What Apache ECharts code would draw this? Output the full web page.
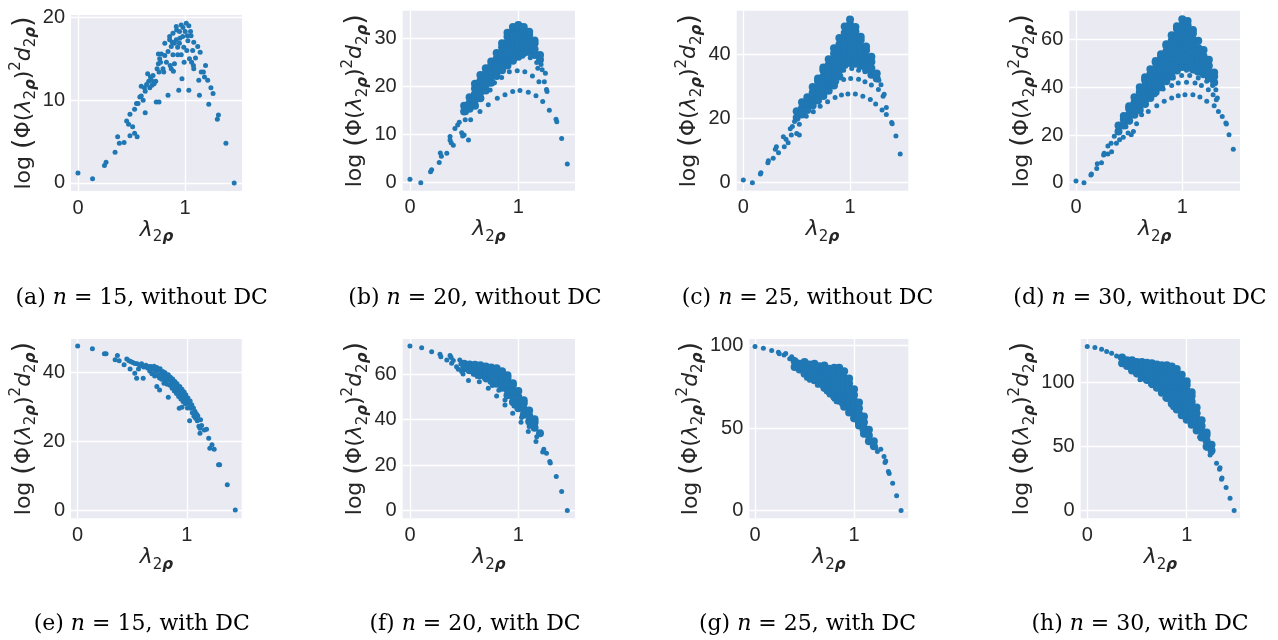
<!DOCTYPE html>
<html>
<head>
<meta charset="utf-8">
<script src="https://cdn.jsdelivr.net/npm/echarts@6/dist/echarts.min.js"></script>
<style>
html,body{margin:0;padding:0;background:#fff;}
#chart{width:1278px;height:640px;}
</style>
</head>
<body>
<div id="chart"></div>
<script>
// ---- data ----
// x = lambda_2rho, y = log(Phi(lambda)^2 d)
var xTicks = [0, 1];
var yTicks = [[0,10,20],[0,10,20,30],[0,20,40],[0,20,40,60],[0,20,40],[0,20,40,60],[0,50,100],[0,50,100]];
var capLetters = ['a','b','c','d','e','f','g','h'];
var capN = [15,20,25,30,15,20,25,30];
var capDC = ['without DC','without DC','without DC','without DC','with DC','with DC','with DC','with DC'];

// (a) n=15 without DC
var ptsA = [[0,1.2],[0.136,0.5],[0.247,2.1],[0.262,2.5],[0.346,3.7],[0.37,5.6],[0.386,4.8],[0.43,4.9],
[0.454,7.5],[0.472,7.1],[0.485,8.3],[0.485,5.7],[0.51,6.8],[0.528,6.0],[0.552,5.6],[0.528,8.9],
[0.546,9.6],[0.56,9.6],[0.577,10.4],[0.59,10.5],[0.59,11.7],[0.608,10.0],[0.62,11.5],[0.627,8.5],[0.627,11.1],[0.64,11.9],
[0.65,13.2],[0.66,12.3],[0.67,11.5],[0.676,12.8],[0.686,12.4],[0.69,11.8],[0.70,13.0],[0.71,12.0],[0.725,12.3],[0.73,9.8],
[0.756,9.8],[0.738,13.8],[0.75,14.4],[0.75,15.6],[0.756,13.4],[0.762,15.0],[0.77,14.6],[0.778,15.6],[0.793,13.8],[0.80,13.4],
[0.81,15.4],[0.81,16.9],[0.825,14.6],[0.84,10.6],[0.84,15.9],[0.855,17.3],[0.855,17.7],[0.86,14.2],[0.87,13.8],
[0.87,16.5],[0.88,17.0],[0.886,15.5],[0.886,18.1],[0.89,13.5],[0.90,14.4],[0.90,16.9],[0.917,18.9],[0.917,17.3],[0.92,18.5],[0.93,16.4],
[0.93,15.5],[0.94,11.2],[0.947,18.3],[0.947,16.9],[0.95,17.5],[0.963,19.1],[0.963,15.5],[0.97,12.6],[0.977,17.7],[0.98,18.8],
[0.987,16.4],[0.99,14.6],[1.00,18.3],[1.01,19.3],[1.015,16.0],[1.02,17.8],[1.025,17.2],[1.034,11.2],[1.034,19.0],
[1.04,15.0],[1.05,18.3],[1.055,17.8],[1.06,14.6],[1.07,16.0],[1.077,14.2],[1.08,17.0],[1.08,13.8],[1.096,15.1],[1.117,16.5],[1.127,12.4],
[1.133,10.6],[1.14,15.8],[1.15,13.4],[1.17,13.4],[1.19,14.2],[1.18,12.8],[1.21,12.4],[1.22,9.5],
[1.24,11.5],[1.26,10.8],[1.30,7.7],[1.31,8.2],[1.38,4.8],[1.457,0]];

// (b) n=20 without DC
var ptsB = [[0,0.7],[0.10,0],[0.19,2.3],[0.20,2.7],[0.27,4.2],[0.28,6.2],[0.29,5.5],[0.34,6.1],[0.37,8.9],[0.37,9.6],
[0.38,8.3],[0.40,7.8],[0.415,11.3],[0.44,12.0],[0.455,12.6],[0.477,10.4],[0.486,9.7],[0.50,9.9],[0.51,13.1],[0.52,14.6],
[0.54,8.9],[0.548,17.2],[0.56,13.1],[0.57,16.0],[0.59,18.6],[0.615,17.9],[0.646,14.8],[0.64,19.5],[0.66,20.1],[0.723,16.2],
[0.74,19.3],[0.806,17.6],[0.877,18.3],[0.948,19.0],[1.015,19.2],[1.092,18.8],[1.163,18.1],[1.225,16.9],[1.286,15.1],
[1.348,13.2],[1.355,12.7],[1.40,9.2],[1.452,3.9],
[0.78,20.8],[0.846,21.9],[0.917,23.1],[0.99,23.3],[1.06,23.1],[1.13,22.2],[1.19,21.0],[1.26,19.4],[1.265,19.0],
[0.90,24.5],[0.97,25.8],[1.04,26.3],[1.11,26.0],[1.17,25.0],[1.22,23.5],[1.25,22.8],[1.24,21.0],[1.18,23.8],[1.21,24.6]];
var coreB = [[0.50,[14.8,16.0]],[0.55,[15.4,16.6,17.8]],[0.60,[16.0,17.2,18.4,19.6,20.6]],[0.65,[17.6,18.8,20.0,21.2,22.4]],
[0.70,[19.2,20.4,21.6,22.8,23.8]],[0.75,[20.8,22.0,23.2,24.4,25.2]],[0.80,[22.2,23.4,24.6,25.8,27.0]],
[0.85,[23.4,24.6,25.8,27.0,28.2,29.0]],[0.90,[24.4,25.6,26.8,28.0,29.2,30.4,31.2]],[0.95,[25.4,26.6,27.8,29.0,30.2,31.4,32.4]],
[1.00,[26.2,27.4,28.6,29.8,31.0,32.2,32.8]],[1.05,[27.0,28.2,29.4,30.6,31.8,32.4]],[1.10,[27.2,28.4,29.6,30.8,31.4]],
[1.15,[26.6,27.8,29.0,29.6]],[1.20,[25.6,26.6]]];

// (c) n=25 without DC
var ptsC = [[0,0.8],[0.085,0],[0.16,2.7],[0.165,3.1],[0.23,6.2],[0.235,6.8],[0.28,7.6],[0.30,10.4],[0.31,11.2],[0.33,9.3],
[0.375,14.3],[0.384,11.2],[0.40,13.5],[0.42,12.4],[0.44,16.8],[0.45,14.8],[0.46,17.5],[0.48,19.0],[0.50,15.3],[0.525,14.8],
[0.525,18.2],[0.59,20.7],[0.656,22.1],[0.72,23.8],[0.79,25.2],[0.86,26.5],[0.92,27.3],[0.98,27.6],[1.05,27.6],[1.12,26.9],
[1.19,25.9],[1.24,24.5],[1.30,22.6],[1.34,23.4],[1.34,21.2],[1.39,18.7],[1.395,18.3],[1.43,14.5],[1.47,8.9],
[0.60,24.5],[0.67,26.5],[0.734,28.3],[0.806,30.0],[0.875,31.4],[0.94,32.1],[1.006,32.4],[1.08,32.2],[1.14,31.4],[1.20,30.4],
[1.266,29.0],[1.31,26.9],[1.32,27.5],
[0.87,34.0],[0.94,35.0],[1.016,35.5],[1.08,35.0],[1.14,34.5],[1.20,33.5],[1.27,31.9],[1.29,30.5],
[0.98,38.0],[1.05,38.5],[1.12,37.5],[1.18,36.5]];
var coreC = [[0.50,[20.2,22.2]],[0.55,[21.2,23.2,25.0]],[0.60,[22.6,24.6,26.6]],[0.65,[24.0,26.0,28.0,29.8]],
[0.70,[25.6,27.6,29.6,31.6,32.4]],[0.75,[27.0,29.0,31.0,33.0,35.0,35.8]],[0.80,[28.6,30.6,32.6,34.6,36.6,38.4]],
[0.85,[30.2,32.2,34.2,36.2,38.2,40.2,41.8]],[0.90,[33.0,35.0,37.0,39.0,41.0,43.0,45.0]],
[0.95,[36.6,38.6,40.6,42.6,44.6,46.6,48.6]],[1.00,[37.2,39.2,41.2,43.2,45.2,47.2,49.2,50.8]],
[1.05,[37.0,39.0,41.0,43.0,45.0,47.0,48.4]],[1.10,[36.4,38.4,40.4,42.4,44.4,45.4]],[1.15,[35.2,37.2,39.2,41.2,42.4]],
[1.20,[33.6,35.6,37.6,39.2]],[1.25,[32.4,34.0]]];

// (d) n=30 without DC
var ptsD = [[0,0.7],[0.075,0],[0.14,3.2],[0.145,3.6],[0.195,6.0],[0.20,7.9],[0.24,8.4],[0.26,11.6],[0.265,12.3],[0.30,15.4],
[0.30,12.0],[0.335,13.0],[0.33,16.5],[0.36,19.5],[0.38,16.5],[0.40,21.5],[0.41,18.0],[0.445,19.1],[0.47,23.5],[0.49,20.8],
[0.51,25.5],[0.52,20.1],[0.54,21.5],[0.57,24.7],
[0.617,28.5],[0.68,29.9],[0.76,32.3],[0.83,34.1],[0.90,35.5],[0.962,36.5],[1.025,36.9],[1.10,36.9],[1.166,35.9],[1.23,34.1],
[1.30,32.3],[1.34,29.9],[1.376,27.8],[1.41,25.0],[1.415,24.6],[1.44,20.1],[1.48,14.0],
[0.665,34.8],[0.743,36.9],[0.82,39.3],[0.90,40.7],[0.962,41.8],[1.04,42.1],[1.12,41.8],[1.18,40.7],[1.245,39.0],[1.29,36.9],
[1.32,34.8],[1.33,35.5],
[0.915,43.9],[0.994,44.9],[1.07,44.9],[1.15,43.9],[1.23,42.5],[1.285,40.7],[1.316,39.0],
[1.04,47.1],[1.12,46.7],[1.20,45.3],[1.26,43.2]];
var coreD = [[0.40,[21.5,24.0]],[0.45,[24.0,26.5,28.0]],[0.50,[26.0,28.5,31.0,32.0]],[0.55,[28.5,31.0,33.5,35.8]],
[0.60,[30.5,33.0,35.5,38.0,40.0]],[0.65,[33.0,35.5,38.0,40.5,43.0,44.2]],[0.70,[35.5,38.0,40.5,43.0,45.5,47.6]],
[0.75,[38.0,40.5,43.0,45.5,48.0,50.5,51.0]],[0.80,[40.0,42.5,45.0,47.5,50.0,52.5,53.8]],
[0.85,[42.5,45.0,47.5,50.0,52.5,55.0,57.5,58.0]],[0.90,[44.5,47.0,49.5,52.0,54.5,57.0,59.5,61.8]],
[0.95,[47.0,49.5,52.0,54.5,57.0,59.5,62.0,64.5,65.6]],[1.00,[48.5,51.0,53.5,56.0,58.5,61.0,63.5,66.0,68.5]],
[1.05,[48.5,51.0,53.5,56.0,58.5,61.0,63.5,66.0,67.8]],[1.10,[47.5,50.0,52.5,55.0,57.5,60.0,62.5,64.0]],
[1.15,[46.5,49.0,51.5,54.0,56.5,59.5]],[1.20,[45.5,48.0,50.5,53.0,55.6]],[1.25,[44.0,46.5,49.0,51.5]],
[1.30,[42.0,44.5,46.2]]];

// (e) n=15 with DC
var ptsE = [[0,47.6],[0.135,46.8],[0.245,45.3],[0.26,45.3],[0.343,43.6],[0.364,44.8],[0.38,43.3],[0.425,42.1],[0.45,43.8],
[0.47,43.3],[0.48,40.9],[0.486,43.1],[0.505,42.8],[0.523,39.7],[0.525,42.5],[0.54,38.2],[0.545,42.4],[0.557,40.9],[0.57,41.8],
[0.585,42.4],[0.60,38.2],[0.605,41.5],[0.625,42.0],[0.64,41.2],[0.655,41.6],
[0.66,40.3],[0.67,41.6],[0.68,39.5],[0.69,40.8],[0.70,41.7],[0.705,38.9],[0.715,40.2],[0.725,35.8],[0.725,41.3],[0.73,39.0],
[0.74,40.6],[0.75,34.8],[0.75,38.3],[0.755,41.0],[0.76,39.6],[0.77,37.9],[0.78,40.2],[0.785,38.8],[0.79,36.8],[0.80,39.8],
[0.805,37.7],[0.815,38.9],[0.82,36.5],[0.83,32.7],[0.83,39.2],[0.835,37.8],[0.845,36.2],[0.85,38.5],[0.86,37.0],[0.865,35.3],
[0.87,38.0],[0.88,36.5],[0.885,34.5],[0.89,37.3],[0.90,35.6],[0.905,33.8],[0.91,36.6],[0.92,34.9],[0.925,32.9],[0.93,29.5],
[0.935,35.8],[0.94,34.0],[0.945,32.2],[0.955,29.8],[0.955,35.0],[0.96,33.2],[0.965,31.5],[0.975,34.2],[0.98,32.4],[0.985,30.8],
[0.99,33.4],[1.00,31.5],[1.005,29.6],[1.01,32.5],[1.02,30.8],[1.025,25.9],[1.03,31.6],[1.035,29.5],[1.045,30.5],[1.05,28.2],
[1.06,29.6],[1.065,27.2],[1.075,28.6],[1.08,26.6],[1.09,27.8],[1.095,25.9],[1.10,27.3],[1.11,24.3],[1.12,22.3],[1.12,23.7],
[1.125,26.2],[1.135,24.5],[1.16,23.2],[1.18,23.4],[1.20,20.8],[1.21,17.9],[1.23,18.9],[1.25,17.6],[1.29,13.1],[1.30,13.1],
[1.37,7.3],[1.443,0]];

// (f) n=20 with DC
var ptsF = [[0,72.4],[0.108,71.7],[0.20,69.9],[0.277,68.8],[0.285,67.7],[0.34,66.3],[0.37,68.2],[0.38,67.4],[0.385,64.8],
[0.40,66.0],[0.43,63.3],[0.446,62.2],[0.46,66.3],[0.47,64.5],[0.477,61.2],[0.49,60.1],[0.50,64.0],[0.52,63.0],[0.54,57.2],
[0.55,64.5],[0.585,60.0],[0.62,59.0],[0.64,56.7],[0.70,57.5],[0.723,53.8],[0.76,55.0],[0.80,50.4],[0.82,53.0],[0.877,46.5],
[0.877,48.7],[0.90,50.5],[0.948,42.8],[0.96,46.0],[1.025,38.9],[1.03,41.0],[1.092,34.8],[1.10,37.0],[1.163,30.4],[1.17,32.5],
[1.225,25.8],[1.235,27.0],[1.26,25.2],[1.29,21.6],[1.295,20.9],[1.35,15.0],[1.40,8.4],[1.452,0]];
var coreF = [[0.50,[62.6,64.6]],[0.55,[61.8,64.3]],[0.60,[60.6,63.1,64.2]],[0.65,[59.6,62.1,64.0]],[0.70,[58.4,60.9,63.4]],
[0.75,[57.0,59.5,62.0,63.0]],[0.80,[55.8,58.3,60.8,62.6]],[0.85,[54.0,56.5,59.0,61.3]],[0.90,[50.8,53.3,55.8,58.3,59.6]],
[0.95,[47.8,50.3,52.8,55.3,56.0]],[1.00,[45.0,47.5,50.0,52.6]],[1.05,[42.2,44.7,47.2,48.6]],[1.10,[39.2,41.7,44.0]],
[1.15,[36.4,38.9,40.2]],[1.20,[34.0]]];

// (g) n=25 with DC
var ptsG = [[0,99.4],[0.084,98.4],[0.168,97.0],[0.236,96.0],[0.245,95.0],[0.293,94.3],[0.31,95.2],[0.35,92.0],[0.37,93.3],
[0.394,91.7],[0.43,90.0],[0.46,87.0],[0.52,80.2],[0.55,79.0],[0.59,79.2],[0.63,76.0],[0.673,75.6],[0.70,73.5],[0.72,72.0],
[0.75,70.0],[0.785,69.5],[0.80,67.5],[0.82,66.0],[0.86,67.1],[0.875,64.5],[0.91,62.5],[0.953,61.4],[0.96,59.0],[1.00,55.0],
[1.034,53.3],[1.04,51.5],[1.08,49.0],[1.128,47.9],[1.155,44.4],[1.17,42.0],[1.195,38.8],[1.22,38.0],[1.236,35.8],[1.27,37.2],
[1.303,32.7],[1.313,29.1],[1.32,30.0],[1.347,23.6],[1.355,22.5],[1.39,16.6],[1.43,8.9],[1.475,0]];
var coreG = [[0.40,[87,90.5]],[0.45,[85.5,89]],[0.50,[83,86.5,90]],[0.55,[81.5,85,88.5]],[0.60,[79,82.5,86,89]],
[0.65,[77,80.5,84,87.5]],[0.70,[74.5,78,81.5,85,88]],[0.75,[72,75.5,79,82.5,86]],[0.80,[69,72.5,76,79.5,83,86.5]],
[0.85,[66.5,70,73.5,77,80.5,84,86.5]],[0.90,[63,66.5,70,73.5,77,80.5,84.5]],[0.95,[59.5,63,66.5,70,73.5,77,80]],
[1.00,[56,59.5,63,66.5,70,73.5]],[1.05,[51.5,55,58.5,62,65.5]],[1.10,[46.5,50,53.5,57]],[1.15,[42,45.5,49]],[1.20,[39,42]]];

// (h) n=30 with DC
var ptsH = [[0,128.1],[0.077,127.3],[0.144,126.0],[0.195,124.2],[0.245,122.9],[0.295,120.8],[0.33,119.5],[0.35,117.8],
[0.40,114.5],[0.45,110.5],[0.50,106],[0.53,102.1],[0.614,100.8],[0.65,97.5],[0.698,98.2],[0.75,93.8],[0.78,88],[0.832,85.2],
[0.86,80.5],[0.916,78.6],[0.95,73.5],[1.017,71.4],[1.04,66.5],[1.117,63.0],[1.13,57.5],[1.20,48.7],[1.235,43.5],[1.25,45.0],
[1.30,37.0],[1.33,32.3],[1.335,33.5],[1.35,24.5],[1.355,25.5],[1.396,18.0],[1.436,9.6],[1.477,0]];
var coreH = [[0.35,[115,119.5]],[0.40,[113,117.5]],[0.45,[109.5,114,117.5]],[0.50,[107,111.5,116]],[0.55,[104,108.5,113,116]],
[0.60,[102,106.5,111,115.5]],[0.65,[99,103.5,108,112.5,115]],[0.70,[96,100.5,105,109.5,114]],
[0.75,[92,96.5,101,105.5,110,113.5]],[0.80,[88,92.5,97,101.5,106,110.5,113.5]],
[0.85,[83.5,88,92.5,97,101.5,106,110.5,112.5]],[0.90,[79,83.5,88,92.5,97,101.5,106,110.5]],
[0.95,[74.5,79,83.5,88,92.5,97,101.5,106]],[1.00,[71,75.5,80,84.5,89,93.5,98,101]],[1.05,[67,71.5,76,80.5,85,89.5,92.5]],
[1.10,[62.5,67,71.5,76,80.5]],[1.15,[57,61.5,66,70.5]],[1.20,[50,54.5,59,61]],[1.25,[47,51.5]]];

var points = [ptsA, ptsB, ptsC, ptsD, ptsE, ptsF, ptsG, ptsH];
var cores = [null, coreB, coreC, coreD, null, coreF, coreG, coreH];

// ---- layout (pixels) ----
var layout = [
  {l:71,     t:15,   w:171,   h:176,   x:[-0.065,1.53],  y:[-0.97,20.3], yg:28,   xg:22, cx:141.7, cy:298},
  {l:402.7,  t:10.7, w:172.3, h:180,   x:[-0.067,1.523], y:[-1.67,35.8], yg:30.7, xg:22, cx:475,   cy:298},
  {l:736.7,  t:10.7, w:171.6, h:180,   x:[-0.062,1.546], y:[-2.5,53.5],  yg:28.7, xg:22, cx:807.5, cy:298},
  {l:1069.3, t:10.7, w:170.7, h:180,   x:[-0.063,1.543], y:[-3.35,72.1], yg:31.3, xg:22, cx:1140,  cy:298},
  {l:71,     t:339,  w:170.7, h:179.3, x:[-0.061,1.502], y:[-2.4,49.6],  yg:28,   xg:20, cx:141.7, cy:624},
  {l:402.7,  t:339,  w:172.3, h:179.3, x:[-0.067,1.523], y:[-3.4,75.5],  yg:30.7, xg:20, cx:475,   cy:624},
  {l:749.3,  t:339,  w:159,   h:179.3, x:[-0.058,1.548], y:[-4.7,104],   yg:41.3, xg:20, cx:807.5, cy:624},
  {l:1080.7, t:339,  w:159.3, h:179.3, x:[-0.066,1.536], y:[-6,134],     yg:42.7, xg:20, cx:1140,  cy:624}
];

var ink = '#262626';
var sans = 'DejaVu Sans';
var tickFont = 'Liberation Sans';
var nameRich = {
  n:  {fontFamily:sans, fontSize:22, color:ink, lineHeight:30},
  P:  {fontFamily:sans, fontSize:27, color:ink, lineHeight:30},
  i:  {fontFamily:sans, fontSize:22, fontStyle:'italic', color:ink, lineHeight:30},
  s:  {fontFamily:sans, fontSize:15, color:ink, lineHeight:15, verticalAlign:'bottom'},
  bs: {fontFamily:sans, fontSize:15, fontStyle:'italic', fontWeight:'bold', color:ink, lineHeight:15, verticalAlign:'bottom'},
  p:  {fontFamily:sans, fontSize:15, color:ink, lineHeight:15, verticalAlign:'top'}
};
var yName = '{n|log }{P|(}{n|Φ(}{i|λ}{s|2}{bs|ρ}{n|)}{p|2}{i|d}{s|2}{bs|ρ}{P|)}';
var xName = '{i|λ}{s|2}{bs|ρ}';

function flatten(cols){
  var out = [];
  cols.forEach(function(c){ c[1].forEach(function(y){ out.push([c[0], y]); }); });
  return out;
}

var grids = [], xAxes = [], yAxes = [], series = [], graphics = [];
layout.forEach(function(p, i){
  grids.push({left:p.l, top:p.t, width:p.w, height:p.h, show:true, backgroundColor:'#EAEAF2', borderWidth:0});
  xAxes.push({
    gridIndex:i, type:'value', min:p.x[0], max:p.x[1],
    axisLine:{show:false}, axisTick:{show:false, customValues:xTicks},
    axisLabel:{customValues:xTicks, fontFamily:tickFont, fontSize:20, color:ink, margin:7},
    splitLine:{show:true, lineStyle:{color:'#ffffff', width:1.3}},
    name:xName, nameLocation:'middle', nameGap:p.xg, nameTextStyle:{rich:nameRich}
  });
  yAxes.push({
    gridIndex:i, type:'value', min:p.y[0], max:p.y[1],
    axisLine:{show:false}, axisTick:{show:false, customValues:yTicks[i]},
    axisLabel:{customValues:yTicks[i], fontFamily:tickFont, fontSize:20, color:ink, margin:6},
    splitLine:{show:true, lineStyle:{color:'#ffffff', width:1.3}},
    name:yName, nameLocation:'middle', nameRotate:90, nameGap:p.yg, nameTextStyle:{rich:nameRich}
  });
  if (cores[i]) {
    series.push({type:'scatter', xAxisIndex:i, yAxisIndex:i, data:flatten(cores[i]), symbolSize:8,
      itemStyle:{color:'#1f77b4', opacity:1}, silent:true});
  }
  series.push({type:'scatter', xAxisIndex:i, yAxisIndex:i, data:points[i], symbolSize:5,
    itemStyle:{color:'#1f77b4', opacity:1}, silent:true});
  graphics.push({
    type:'text', x:p.cx, y:p.cy, silent:true,
    style:{
      text:'{t|(' + capLetters[i] + ') }{m|n}{t| = ' + capN[i] + ', ' + capDC[i] + '}',
      align:'center', verticalAlign:'middle',
      rich:{
        t:{fontFamily:'DejaVu Serif', fontSize:22, fill:'#000'},
        m:{fontFamily:'DejaVu Serif', fontSize:22, fontStyle:'italic', fill:'#000'}
      }
    }
  });
});

var myChart = echarts.init(document.getElementById('chart'));
myChart.setOption({
  animation:false,
  backgroundColor:'#ffffff',
  grid:grids,
  xAxis:xAxes,
  yAxis:yAxes,
  series:series,
  graphic:graphics
});
</script>
</body>
</html>
